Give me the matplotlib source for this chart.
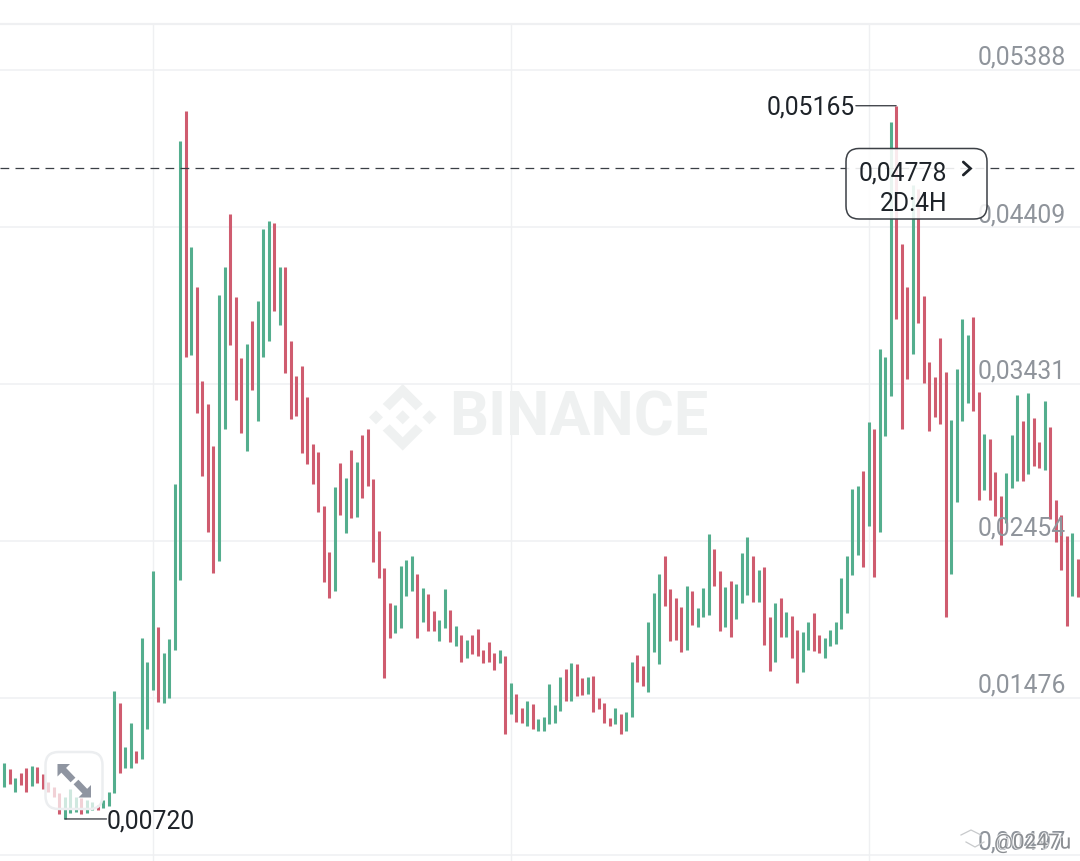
import numpy as np
import matplotlib
matplotlib.use("Agg")
import matplotlib.pyplot as plt
from matplotlib.patches import FancyBboxPatch, Polygon
from matplotlib.transforms import Affine2D
import matplotlib.patheffects as pe

plt.rcParams['font.family'] = ['Roboto', 'DejaVu Sans']

# ---- data (prices in units of 0.00001) ----
first_index = -1
bar_dir = ("D"
           "UDUDDUDDDDDUUUDUUDUU" "UDUUDUUUDUUUUDUDDDDU" "UDDDUDUUUDUDDDDDDDDD"
           "UDUDUDDDDDDUUUUDUDDU" "UDUDUDDDDDUDUDDUDUUU" "UUDUDDUDDDDUDUUDDUUU"
           "DDDDUDUUUDDUDUUUDUDD" "UDUDDUUDDUUUUUUUDUDU" "UUDDDUDDDDDDUUUUDDUD"
           "DDUUUDUDDUDDDDUD")
bar_high = [901,
    1067,1032,976,1007,1038,1050,1044,1001,951,920,882,857,907,857,851,839,826,807,839,889,
    1520,1443,1169,1318,1144,1848,1699,2266,1917,1755,1842,2810,4945,5134,4285,4037,3450,3305,3047,3986,
    4160,4491,3975,3591,3679,3826,3948,4397,4447,4434,4160,4160,3701,3481,3543,3352,3055,3007,2673,2382,
    2789,2937,2847,3018,2947,3113,3151,2839,2517,2286,2064,2052,2295,2332,2361,2245,2158,2121,2018,1960,
    2155,2021,1921,1869,1838,1867,1902,1775,1825,1753,1775,1736,1566,1499,1410,1454,1437,1342,1358,1562,
    1429,1607,1653,1692,1686,1599,1607,1610,1472,1441,1350,1414,1373,1389,1701,1740,1676,1950,2129,2245,
    2361,2152,2097,2040,2170,2139,2037,2160,2498,2403,2266,2166,2205,2183,2376,2476,2357,2270,2291,1977,
    2068,2096,2012,1983,1900,1884,1946,2004,1867,1846,1900,1948,2222,2359,2777,2795,2889,3196,3149,3647,
    3598,5062,5165,4304,4037,4671,4646,3980,3570,3475,3716,3503,3207,3523,3838,3736,3849,3383,3121,3088,
    2883,2735,2878,3113,3363,3201,3373,3217,3068,3323,3165,2708,2615,2486,2501,2339]
bar_low = [851,
    918,938,889,932,889,926,945,907,889,857,751,720,758,764,751,758,776,776,789,801,
    880,1007,1038,1038,1069,1094,1281,1524,1449,1443,1474,1773,2210,3601,3612,3250,2860,2507,2251,2328,
    3153,3674,3333,3128,3015,3394,3201,3601,3697,3888,3799,3502,3211,3234,3001,2931,2808,2632,2195,2096,
    2141,2613,2501,2598,2600,2719,2795,2324,2220,1601,1846,1877,1909,2110,2143,1850,1950,1894,1894,1830,
    1909,1825,1800,1699,1725,1748,1738,1691,1701,1649,1694,1250,1373,1323,1320,1302,1279,1269,1269,1310,
    1320,1395,1454,1456,1489,1493,1501,1387,1406,1320,1300,1310,1252,1269,1354,1572,1551,1513,1759,1688,
    2050,1831,1838,1761,1773,1931,1919,1977,1990,2172,1890,1915,1854,1965,2068,2118,2072,2071,1803,1644,
    1697,1856,1856,1722,1568,1634,1775,1769,1753,1723,1800,1813,1906,2002,2241,2365,2293,2546,2230,2511,
    3105,3358,3834,3153,3460,3616,3809,3435,3140,3227,3182,1981,2247,2698,3201,3311,3263,2708,2769,2710,
    2610,2426,2565,2781,2825,2828,2868,2920,2906,2895,2588,2448,2272,1923,2110,2102]

price_ticks = [0.05388, 0.04409, 0.03431, 0.02454, 0.01476, 0.00497]
tick_labels = ["0,05388", "0,04409", "0,03431", "0,02454", "0,01476", "0,00497"]
time_grid_index = [27, 92, 157]
last_price = 0.04778
last_label = "0,04778"
countdown = "2D:4H"
high_index, high_value, high_label = 162, 0.05165, "0,05165"
low_index, low_value, low_label = 11, 0.00720, "0,00720"
chart_top = 0.05675

# ---- styles ----
GREEN = "#54ae8e"
RED = "#cf5c6f"
GRID = "#eff0f2"
AXIS_TXT = "#8f949b"
DARK = "#1e2329"
MARK = "#eff1f1"
W, H = 1080, 861

fig = plt.figure(figsize=(W / 100, H / 100), dpi=100, facecolor="white")
ax = fig.add_axes([0, 0, 1, 1], facecolor="white")
ax.set_frame_on(False)
px = Affine2D().scale(1, -1).translate(0, H)   # decoration in screen pixels, y downward

idx = np.arange(first_index, first_index + len(bar_high))
high = np.array(bar_high) / 1e5
low = np.array(bar_low) / 1e5
colors = [GREEN if d == "U" else RED for d in bar_dir]

ylim = (0.00458, 0.05824)
xlim = (-0.781, 195.4)
ax.set_xlim(xlim)
ax.set_ylim(ylim)
ax.set_xticks([])
ax.set_yticks(price_ticks)
ax.set_yticklabels([])
ax.tick_params(axis="y", length=0)
ax.grid(axis="y", color=GRID, lw=1.1)
ax.set_axisbelow(True)
ax.axhline(chart_top, color=GRID, lw=1.6, zorder=0.6)
ax.vlines(time_grid_index, ylim[0], chart_top, color=GRID, lw=1.0, zorder=0.6)

# Binance watermark
cx, cy = 402.7, 417.3
for dx, dy in [(0, 0), (-26.7, 0), (26.7, 0)]:
    ax.add_patch(Polygon([(cx+dx, cy+dy-7), (cx+dx+7, cy+dy), (cx+dx, cy+dy+7), (cx+dx-7, cy+dy)],
                         closed=True, fc=MARK, ec="none", transform=px, zorder=1))
chev = [(0, -33.3), (20, -13.3), (13, -7), (0, -20), (-13, -7), (-20, -13.3)]
for s in (1, -1):
    ax.add_patch(Polygon([(cx+a, cy+s*b) for a, b in chev], closed=True, fc=MARK, ec="none",
                         transform=px, zorder=1))
ax.text(449, 418, "BINANCE", transform=px, fontsize=44, fontweight="bold", color=MARK,
        ha="left", va="center", zorder=1)

# bars
ax.vlines(idx, low, high, colors=colors, lw=2.2, zorder=3, capstyle="butt")
# current price
ax.axhline(last_price, color="#3a3f45", lw=0.9, dashes=(7, 5), zorder=4)

# overlay axes: price labels and annotations above the bars
ov = ax.twinx()
ov.set_frame_on(False)
ov.patch.set_visible(False)
ov.set_ylim(ylim)
ov.set_yticks(price_ticks)
ov.set_yticklabels(tick_labels, fontsize=17.8, color=AXIS_TXT)
ov.tick_params(axis="y", length=0, pad=-10)
for t in ov.yaxis.get_major_ticks():
    t.label2.set_ha("right")
    t.label2.set_va("bottom")

# high / low callouts
line_style = dict(arrowstyle="-", color="#30343a", lw=0.9, shrinkA=0, shrinkB=0)
ov.annotate("", xy=(high_index, high_value), xytext=(-29, 0), textcoords="offset points", arrowprops=line_style)
ov.annotate(high_label, xy=(high_index, high_value), xytext=(-30, -1.2), textcoords="offset points",
            ha="right", va="center", fontsize=17.8, color=DARK)
ov.annotate("", xy=(low_index, low_value), xytext=(30, 0), textcoords="offset points", arrowprops=line_style)
ov.annotate(low_label, xy=(low_index, low_value), xytext=(30, -1.5), textcoords="offset points",
            ha="left", va="center", fontsize=17.8, color=DARK)

# price tooltip
ov.add_patch(FancyBboxPatch((846, 148.5), 141, 70.5, boxstyle="round,pad=0,rounding_size=13",
                            fc=(1, 1, 1, 0.88), ec="#3c4046", lw=1.1, transform=px, zorder=10))
ov.text(903, 173.5, last_label, transform=px, fontsize=17.8, color=DARK, ha="center", va="center", zorder=11)
ov.text(914, 204, countdown, transform=px, fontsize=17.8, color=DARK, ha="center", va="center", zorder=11)
ov.plot([963.3, 970.5, 963.3], [162, 168.5, 175], color=DARK, lw=2, transform=px, zorder=11,
        solid_capstyle="round", solid_joinstyle="miter")

# expand button
ov.add_patch(FancyBboxPatch((45.5, 752), 57, 57, boxstyle="round,pad=0,rounding_size=13",
                            fc=(1, 1, 1, 0.72), ec="#eceef0", lw=1.8, transform=px, zorder=10))
ICON = "#8f95a1"
for pts, shaft in [([(57.5, 764), (70, 764), (57.5, 776.5)], [(61, 767.5), (73, 780)]),
                   ([(91, 797.5), (78.5, 797.5), (91, 785)], [(87.5, 794), (76, 782)])]:
    ov.add_patch(Polygon(pts, closed=True, fc=ICON, ec="none", transform=px, zorder=11))
    ov.plot(*zip(*shaft), color=ICON, lw=4.8, transform=px, zorder=11, solid_capstyle="butt")

# reposted-image watermark in the bottom right corner
ov.text(1071, 843, "@0247u", transform=px, fontsize=15, color="#6f7378", alpha=0.75, ha="right", va="center",
        zorder=12, path_effects=[pe.withStroke(linewidth=1.5, foreground="white", alpha=0.7)])
ov.plot([961, 971, 981], [835, 830, 835], color="#c8cacc", lw=0.9, transform=px, zorder=12)
ov.plot([966, 975, 984], [842, 847, 842], color="#c8cacc", lw=0.9, transform=px, zorder=12)

ax.set_xlim(xlim)
ov.set_xlim(xlim)
ov.set_xticks([])
fig.savefig("out.png", dpi=100, facecolor="white")
